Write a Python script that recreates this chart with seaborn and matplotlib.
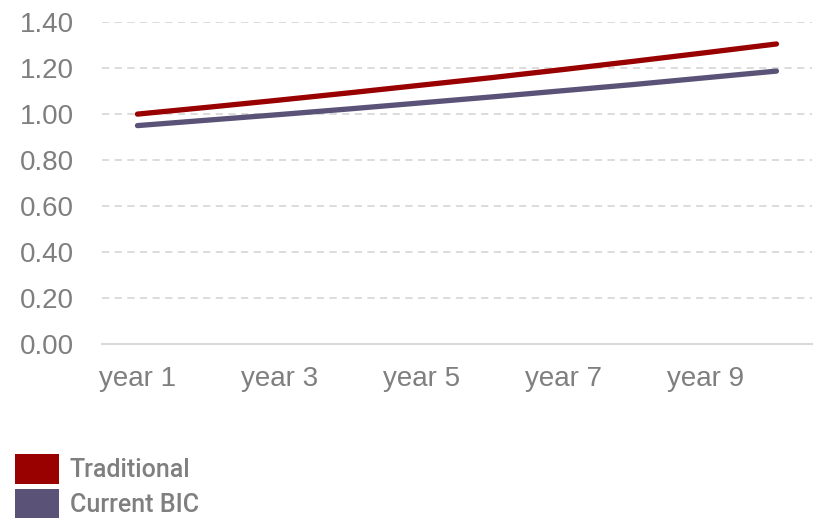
import matplotlib
matplotlib.use("Agg")
import matplotlib.pyplot as plt
import seaborn as sns
import pandas as pd
from matplotlib.patches import Patch

years = ["year 1", "year 2", "year 3", "year 4", "year 5",
         "year 6", "year 7", "year 8", "year 9", "year 10"]
traditional = [1.00, 1.03, 1.061, 1.093, 1.126, 1.159, 1.194, 1.230, 1.267, 1.305]
current_bic = [0.95, 0.974, 0.998, 1.023, 1.049, 1.075, 1.102, 1.129, 1.158, 1.187]
series_names = ["Traditional", "Current BIC"]
colors = ["#990000", "#5b5278"]
y_ticks = [0.0, 0.2, 0.4, 0.6, 0.8, 1.0, 1.2, 1.4]
x_tick_labels = ["year 1", "year 3", "year 5", "year 7", "year 9"]

df = pd.DataFrame({
    "year": years * 2,
    "value": traditional + current_bic,
    "series": [series_names[0]] * len(years) + [series_names[1]] * len(years),
})

sns.set_theme(style="white")
plt.rcParams["font.family"] = ["Liberation Sans", "DejaVu Sans"]

fig = plt.figure(figsize=(8.17, 5.19), dpi=100)
ax = fig.add_axes([0.1248, 0.337, 0.869, 0.6204])

sns.lineplot(data=df, x="year", y="value", hue="series", palette=colors,
             linewidth=3.8, ax=ax, legend=False, sort=False,
             solid_capstyle="round")

ax.set_xlim(-0.5, 9.5)
ax.set_ylim(0, 1.4)
ax.set_yticks(y_ticks)
ax.set_yticklabels([f"{v:.2f}" for v in y_ticks])
ax.set_xticks([0, 2, 4, 6, 8])
ax.set_xticklabels(x_tick_labels)
ax.set_xlabel("")
ax.set_ylabel("")

for v in y_ticks[1:]:
    ax.axhline(v, color="#d9d9d9", linewidth=1.3, linestyle=(0, (4, 3)), zorder=0)
for s in ["top", "right", "left"]:
    ax.spines[s].set_visible(False)
ax.spines["bottom"].set_color("#d9d9d9")
ax.spines["bottom"].set_linewidth(1.5)
ax.tick_params(axis="both", length=0, labelsize=20, labelcolor="#7f7f7f")
ax.tick_params(axis="y", pad=20)
ax.tick_params(axis="x", pad=16)
ax.set_facecolor("white")

handles = [Patch(facecolor=c, edgecolor="none") for c in colors]
fig.legend(handles, series_names, loc="upper left",
           bbox_to_anchor=(15 / 817, 1 - 454 / 519), frameon=False,
           prop={"family": ["Roboto", "DejaVu Sans"], "size": 18, "weight": "medium"},
           labelcolor="#7f7f7f", handlelength=1.75, handleheight=1.45,
           labelspacing=0.2, handletextpad=0.45, borderaxespad=0, borderpad=0)

fig.savefig("out.png", dpi=100, facecolor="white")
